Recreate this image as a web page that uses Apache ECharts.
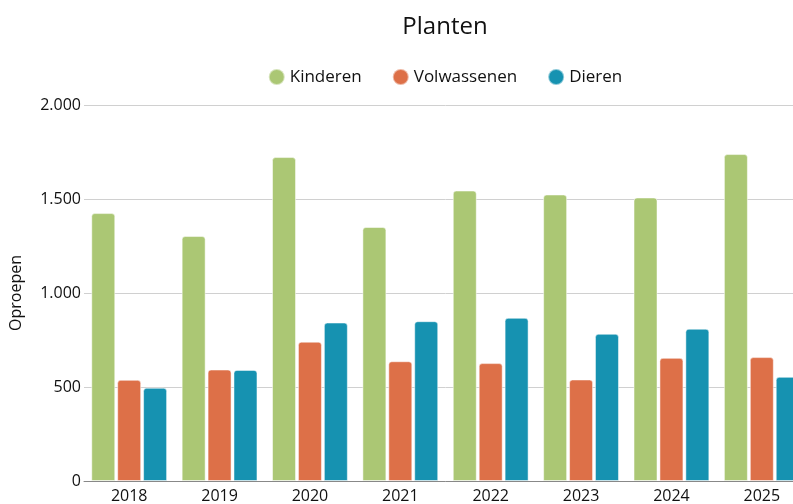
<!DOCTYPE html>
<html>
<head>
<meta charset="utf-8">
<script src="https://cdn.jsdelivr.net/npm/echarts@6/dist/echarts.min.js"></script>
<style>
  html, body { margin: 0; padding: 0; background: #fff; overflow: hidden; }
  /* the chart is wider than the window and gets clipped on the right */
  #chart { width: 890px; height: 504px; }
</style>
</head>
<body>
<div id="chart"></div>
<script>
const years = ['2018', '2019', '2020', '2021', '2022', '2023', '2024', '2025'];
const kinderen = [1425, 1303, 1723, 1351, 1545, 1524, 1508, 1739];
const volwassenen = [538, 593, 741, 637, 627, 540, 655, 659];
const dieren = [496, 591, 843, 850, 868, 783, 810, 554];

const font = "'Open Sans', 'Noto Sans', sans-serif";

function fmt(v) {
  return String(v).replace(/\B(?=(\d{3})+(?!\d))/g, '.');
}

function barSeries(name, data, color) {
  return {
    name: name,
    type: 'bar',
    data: data,
    barWidth: 24,
    barGap: '8%',
    itemStyle: {
      color: color,
      borderRadius: [3, 3, 0, 0],
      borderColor: 'rgba(255,255,255,0.5)',
      borderWidth: 1
    }
  };
}

const chart = echarts.init(document.getElementById('chart'));
chart.setOption({
  animation: false,
  textStyle: { fontFamily: font },
  title: {
    text: 'Planten',
    left: 'center',
    top: 10,
    textStyle: { fontFamily: font, fontSize: 24, fontWeight: 'normal', color: '#111' }
  },
  legend: {
    top: 63,
    left: 'center',
    icon: 'circle',
    itemWidth: 16,
    itemHeight: 16,
    itemGap: 30,
    textStyle: { fontFamily: font, fontSize: 17, color: '#111' }
  },
  grid: { left: 81, right: 83, top: 105, bottom: 21, containLabel: false },
  xAxis: {
    type: 'category',
    data: years,
    axisTick: { show: false },
    axisLine: { lineStyle: { color: '#888', width: 1 } },
    axisLabel: { fontFamily: font, fontSize: 16, color: '#111', margin: 7 }
  },
  yAxis: {
    type: 'value',
    min: 0,
    max: 2000,
    interval: 500,
    name: 'Oproepen',
    nameLocation: 'middle',
    nameGap: 60,
    nameTextStyle: { fontFamily: font, fontSize: 16, color: '#111' },
    axisLabel: { fontFamily: font, fontSize: 16, color: '#111', margin: 3, formatter: fmt },
    splitLine: { lineStyle: { color: '#d0d0d0' } }
  },
  series: [
    barSeries('Kinderen', kinderen, '#abc774'),
    barSeries('Volwassenen', volwassenen, '#dd7048'),
    barSeries('Dieren', dieren, '#1692b1')
  ]
});
</script>
</body>
</html>
